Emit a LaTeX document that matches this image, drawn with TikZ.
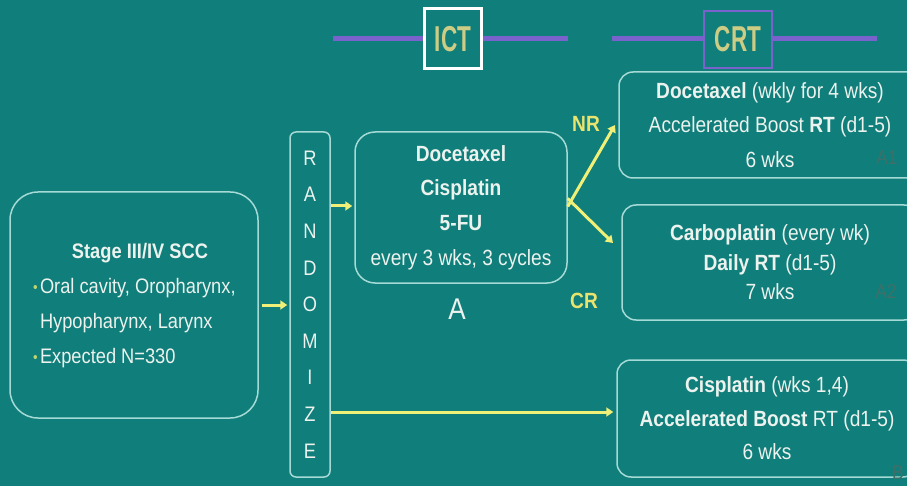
\documentclass[tikz,border=0pt]{standalone}
\usepackage{fontspec}
\setmainfont[FakeStretch=0.87]{Liberation Sans}
\usetikzlibrary{arrows.meta,calc}
\definecolor{bg}{RGB}{16,126,122}
\definecolor{bord}{RGB}{165,218,214}
\definecolor{txt}{RGB}{236,242,238}
\definecolor{yel}{RGB}{240,240,120}
\definecolor{lab}{RGB}{232,228,110}
\definecolor{purp}{RGB}{122,98,204}
\definecolor{khaki}{RGB}{204,204,132}
\definecolor{faint}{RGB}{62,112,106}
\definecolor{bul}{RGB}{190,212,110}
\begin{document}
\begin{tikzpicture}[x=1pt,y=-1pt,
  box/.style={draw=bord, line width=1.5pt, rounded corners=14pt, fill=bg, text=txt, align=center, inner sep=0pt},
  arr/.style={draw=yel, line width=3pt, -{Triangle[length=7pt,width=9pt]}},
  hdr/.style={fill=bg, inner sep=0pt, text=khaki},
  tag/.style={text=lab, font=\fontsize{22}{22}\selectfont\bfseries, inner sep=0pt},
  faintlab/.style={text=faint, font=\fontsize{20}{20}\selectfont, inner sep=0pt}]
\useasboundingbox (0,0) rectangle (907,486);
\clip (0,0) rectangle (907,486);
\fill[bg] (0,0) rectangle (907,486);

% header bars
\coordinate (l1a) at (333,39);
\coordinate (l1b) at (568,39);
\coordinate (l2a) at (612,39);
\coordinate (l2b) at (877,39);
\draw[purp, line width=5pt] (l1a) -- (l1b);
\draw[purp, line width=5pt] (l2a) -- (l2b);
\node[hdr, draw=white, line width=3pt, minimum width=57pt, minimum height=60pt] (ict) at (453,39)
  {\scalebox{0.72}[1]{\fontsize{36}{36}\selectfont\bfseries ICT}};
\node[hdr, draw=purp, line width=1.8pt, minimum width=68pt, minimum height=57pt] (crt) at (738,39.5)
  {\scalebox{0.72}[1]{\fontsize{36}{36}\selectfont\bfseries CRT}};

% left box
\node[box, rounded corners=28pt, minimum width=248pt, minimum height=226pt] (left) at (134,305) {};
\node[text=txt, inner sep=0pt, font=\fontsize{21}{35}\selectfont] (lefttxt) at (140,306)
  {\parbox{214pt}{\centering\bfseries Stage III/IV SCC\par
   \raggedright\mdseries
   \makebox[7pt][l]{\raisebox{1.5pt}{\textcolor{bul}{\fontsize{15}{15}\selectfont •}}}Oral cavity, Oropharynx,\\
   \hspace*{7pt}Hypopharynx, Larynx\\
   \makebox[7pt][l]{\raisebox{1.5pt}{\textcolor{bul}{\fontsize{15}{15}\selectfont •}}}Expected N=330}};

% randomize
\node[box, rounded corners=6pt, minimum width=40pt, minimum height=345pt, font=\fontsize{21}{36.6}\selectfont] (rand) at (310,304.5)
  {R\\A\\N\\D\\O\\M\\I\\Z\\E};

% induction box
\node[box, rounded corners=20pt, minimum width=212pt, minimum height=151pt, font=\fontsize{22}{34.7}\selectfont] (ictbox) at (461,207.5)
  {\textbf{Docetaxel}\\\textbf{Cisplatin}\\\textbf{5-FU}\\every 3 wks, 3 cycles};
\node[text=txt, inner sep=0pt, font=\fontsize{30}{30}\selectfont] (alab) at (457,309) {A};

% CRT boxes
\node[box, minimum width=302pt, minimum height=106pt, font=\fontsize{22}{34.5}\selectfont] (a1) at (770,125)
  {\textbf{Docetaxel} (wkly for 4 wks)\\Accelerated Boost \textbf{RT} (d1-5)\\6 wks};
\node[box, minimum width=296pt, minimum height=115pt, font=\fontsize{22}{29.5}\selectfont] (a2) at (770,262.5)
  {\textbf{Carboplatin} (every wk)\\\textbf{Daily RT} (d1-5)\\7 wks};
\node[box, minimum width=300pt, minimum height=117pt, font=\fontsize{22}{33.5}\selectfont] (b) at (767,418.5)
  {\textbf{Cisplatin} (wks 1,4)\\\textbf{Accelerated Boost} RT (d1-5)\\6 wks};

\node[faintlab] (a1lab) at (887,158) {A1};
\node[faintlab] (a2lab) at (886,292) {A2};
\node[faintlab] (blab) at (898,473) {B};

% labels
\node[tag] (nr) at (586,124) {NR};
\node[tag] (cr) at (584,301) {CR};

% arrows
\coordinate (bline) at (0,412);
\coordinate (nrend) at (615,125);
\coordinate (crend) at (613,243);
\draw[arr] ([xshift=3pt]left.east) -- ([xshift=-2pt]left.east -| rand.west);
\draw[arr] (rand.east |- 0,206) -- ([xshift=-2pt]ictbox.west |- 0,206);
\draw[arr] ([yshift=1pt]ictbox.east) -- (nrend);
\draw[arr] ([yshift=9pt]ictbox.east) -- (crend);
\draw[arr] (rand.east |- bline) -- ([xshift=-3pt]b.west |- bline);
\end{tikzpicture}
\end{document}
